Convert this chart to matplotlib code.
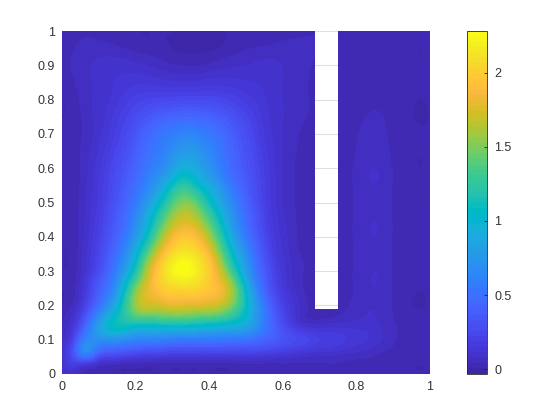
import numpy as np
import matplotlib
matplotlib.use("Agg")
import matplotlib.pyplot as plt
from matplotlib.colors import ListedColormap, Normalize
from matplotlib.cm import ScalarMappable
from matplotlib.tri import Triangulation, UniformTriRefiner

plt.rcParams['font.family'] = ['Liberation Sans', 'DejaVu Sans']

x_nodes = [0, .03, .06, .1, .15, .2, .25, .29, .33, .37, .4, .45, .5, .55, .6, .65, .6875, .75, .8, .85, .9, .95, 1]
y_nodes = [0, .03, .06, .1, .14, .187, .25, .3, .35, .4, .45, .5, .55, .6, .7, .8, .9, .95, 1]
slot_x = (0.6875, 0.75)
slot_y = (0.187, 1.0)
vmin, vmax = -0.028, 2.28
cbar_ticks = [0, 0.5, 1, 1.5, 2]
x_ticks = [0, .2, .4, .6, .8, 1]
y_ticks = [0, .1, .2, .3, .4, .5, .6, .7, .8, .9, 1]

z_000 = [.08,.08,.05,.03,.02,.02,.02,.02,.02,.02,.02,.02,.02,.02,.02,.02,.02,.02,.02,.02,.02,.01,.01]
z_003 = [.10,.18,.16,.08,.05,.04,.03,.03,.03,.03,.03,.03,.04,.04,.04,.04,.04,.04,.03,.03,.02,.01,.01]
z_006 = [.10,.30,.60,.38,.30,.25,.22,.20,.20,.20,.20,.20,.20,.18,.15,.12,.10,.09,.07,.05,.03,.02,.01]
z_010 = [.08,.22,.58,.68,.70,.62,.60,.57,.55,.55,.55,.52,.50,.42,.32,.25,.20,.17,.13,.10,.05,.02,.01]
z_014 = [.05,.13,.38,.80,1.10,1.05,1.05,1.05,1.05,1.02,1.00,.95,.85,.55,.28,.12,.09,.10,.10,.09,.05,.02,.01]
z_019 = [.02,.07,.22,.55,1.00,1.50,1.60,1.65,1.65,1.62,1.60,1.45,1.05,.55,.22,.07,.02,.03,.06,.08,.04,.01,.01]
z_025 = [.01,.03,.13,.37,.75,1.45,1.88,2.02,2.05,2.03,1.95,1.70,1.00,.42,.15,.05,.01,.03,.05,.08,.04,.01,.01]
z_030 = [.01,.02,.10,.27,.60,1.15,1.85,2.15,2.28,2.15,1.98,1.45,.80,.36,.13,.05,.01,.03,.05,.08,.04,.01,.01]
z_035 = [.01,.02,.09,.23,.50,.95,1.60,2.00,2.15,2.05,1.85,1.20,.68,.30,.11,.04,.01,.03,.05,.08,.04,.01,.01]
z_040 = [.01,.02,.08,.20,.42,.75,1.30,1.75,1.95,1.85,1.60,1.00,.55,.25,.10,.03,.01,.03,.05,.08,.04,.01,.01]
z_045 = [.01,.02,.075,.18,.37,.65,1.10,1.50,1.72,1.60,1.35,.85,.48,.22,.09,.03,.01,.03,.05,.08,.04,.01,.01]
z_050 = [.01,.02,.07,.16,.33,.55,.90,1.25,1.50,1.35,1.10,.72,.42,.20,.08,.03,.01,.03,.05,.08,.04,.01,.01]
z_055 = [.01,.02,.065,.15,.30,.48,.72,1.00,1.22,1.05,.90,.60,.37,.19,.08,.03,.01,.03,.05,.08,.04,.01,.01]
z_060 = [.01,.02,.06,.14,.27,.42,.60,.75,.95,.85,.72,.50,.33,.18,.08,.03,.01,.03,.05,.08,.04,.01,.01]
z_070 = [.01,.02,.05,.10,.20,.33,.48,.56,.62,.60,.55,.42,.28,.15,.08,.04,.02,.03,.04,.06,.03,.01,.01]
z_080 = [.01,.02,.06,.09,.14,.20,.23,.24,.25,.25,.25,.22,.17,.12,.08,.06,.02,.02,.03,.04,.03,.01,.01]
z_090 = [.02,.05,.07,.09,.10,.09,.07,.05,.04,.04,.05,.07,.08,.09,.08,.07,.03,.03,.03,.03,.02,.01,.01]
z_095 = [.02,.04,.06,.06,.05,.03,.02,.01,.00,.00,.00,.02,.04,.05,.06,.07,.06,.02,.03,.02,.02,.01,.01]
z_100 = [.02,.02,.03,.03,.02,.01,.01,.01,.00,.00,.00,.01,.01,.01,.01,.02,.03,.01,.01,.01,.01,.01,.01]
z_rows = [z_000, z_003, z_006, z_010, z_014, z_019, z_025, z_030, z_035, z_040, z_045, z_050,
          z_055, z_060, z_070, z_080, z_090, z_095, z_100]

parula = [
[0.2422,0.1504,0.6603],[0.2504,0.1650,0.7076],[0.2578,0.1818,0.7511],[0.2647,0.1978,0.7952],
[0.2706,0.2147,0.8364],[0.2751,0.2342,0.8710],[0.2783,0.2559,0.8991],[0.2803,0.2782,0.9221],
[0.2813,0.3006,0.9414],[0.2810,0.3228,0.9579],[0.2795,0.3447,0.9717],[0.2760,0.3667,0.9829],
[0.2699,0.3892,0.9906],[0.2602,0.4123,0.9952],[0.2440,0.4358,0.9988],[0.2206,0.4603,0.9973],
[0.1963,0.4847,0.9892],[0.1834,0.5074,0.9798],[0.1786,0.5289,0.9682],[0.1764,0.5499,0.9520],
[0.1687,0.5703,0.9359],[0.1540,0.5902,0.9218],[0.1460,0.6091,0.9079],[0.1380,0.6276,0.8973],
[0.1248,0.6459,0.8883],[0.1113,0.6635,0.8763],[0.0952,0.6798,0.8598],[0.0689,0.6948,0.8394],
[0.0297,0.7082,0.8163],[0.0036,0.7203,0.7917],[0.0067,0.7312,0.7660],[0.0433,0.7411,0.7394],
[0.0964,0.7500,0.7120],[0.1408,0.7584,0.6842],[0.1717,0.7670,0.6554],[0.1938,0.7758,0.6251],
[0.2161,0.7843,0.5923],[0.2470,0.7918,0.5567],[0.2906,0.7973,0.5188],[0.3406,0.8008,0.4789],
[0.3909,0.8029,0.4354],[0.4456,0.8024,0.3909],[0.5044,0.7993,0.3480],[0.5616,0.7942,0.3045],
[0.6174,0.7876,0.2612],[0.6720,0.7793,0.2227],[0.7242,0.7698,0.1910],[0.7738,0.7598,0.1646],
[0.8203,0.7498,0.1535],[0.8634,0.7406,0.1596],[0.9035,0.7330,0.1774],[0.9393,0.7288,0.2100],
[0.9728,0.7298,0.2394],[0.9956,0.7434,0.2371],[0.9970,0.7659,0.2199],[0.9952,0.7893,0.2028],
[0.9892,0.8136,0.1885],[0.9786,0.8386,0.1766],[0.9676,0.8639,0.1643],[0.9610,0.8890,0.1537],
[0.9597,0.9135,0.1423],[0.9628,0.9373,0.1265],[0.9691,0.9606,0.1064],[0.9769,0.9839,0.0805]]
cmap = ListedColormap(parula)
norm = Normalize(vmin, vmax)

W, H = 560, 420
fig = plt.figure(figsize=(W / 100, H / 100), dpi=100, facecolor='white')
ax = fig.add_axes([62 / W, 1 - 374 / H, 368 / W, 343 / H])
cax = fig.add_axes([467.3 / W, 1 - 373.5 / H, 20 / W, 342.5 / H])

X, Y = np.meshgrid(x_nodes, y_nodes)
Z = np.array(z_rows)
tri = Triangulation(X.ravel(), Y.ravel())
cx = X.ravel()[tri.triangles].mean(axis=1)
cy = Y.ravel()[tri.triangles].mean(axis=1)
tri.set_mask((cx > slot_x[0]) & (cx < slot_x[1]) & (cy > slot_y[0]))

fine_tri, fine_z = UniformTriRefiner(tri).refine_field(Z.ravel(), subdiv=2)

levels = np.linspace(vmin, vmax, 65)
cs = ax.tricontourf(fine_tri, fine_z, levels=levels, cmap=cmap, norm=norm,
                    extend='both', antialiased=False, zorder=2)

ax.set_xlim(0, 1)
ax.set_ylim(0, 1)
ax.set_xticks(x_ticks, ['0', '0.2', '0.4', '0.6', '0.8', '1'])
ax.set_yticks(y_ticks, ['0', '0.1', '0.2', '0.3', '0.4', '0.5', '0.6', '0.7', '0.8', '0.9', '1'])
ax.grid(axis='y', color='#dfdfdf', lw=0.8, zorder=1)
ax.set_axisbelow(True)
ax.tick_params(length=0, labelsize=9, labelcolor='#333333', pad=5)
for s in ax.spines.values():
    s.set_visible(False)

cb = fig.colorbar(ScalarMappable(norm=norm, cmap=cmap), cax=cax)
cb.set_ticks(cbar_ticks, labels=['0', '0.5', '1', '1.5', '2'])
cb.ax.tick_params(direction='in', length=2.5, width=0.6, color='#262626', labelsize=9,
                  labelcolor='#333333', pad=5)
cb.outline.set_edgecolor('#262626')
cb.outline.set_linewidth(0.6)

fig.savefig('out.png', dpi=100)
